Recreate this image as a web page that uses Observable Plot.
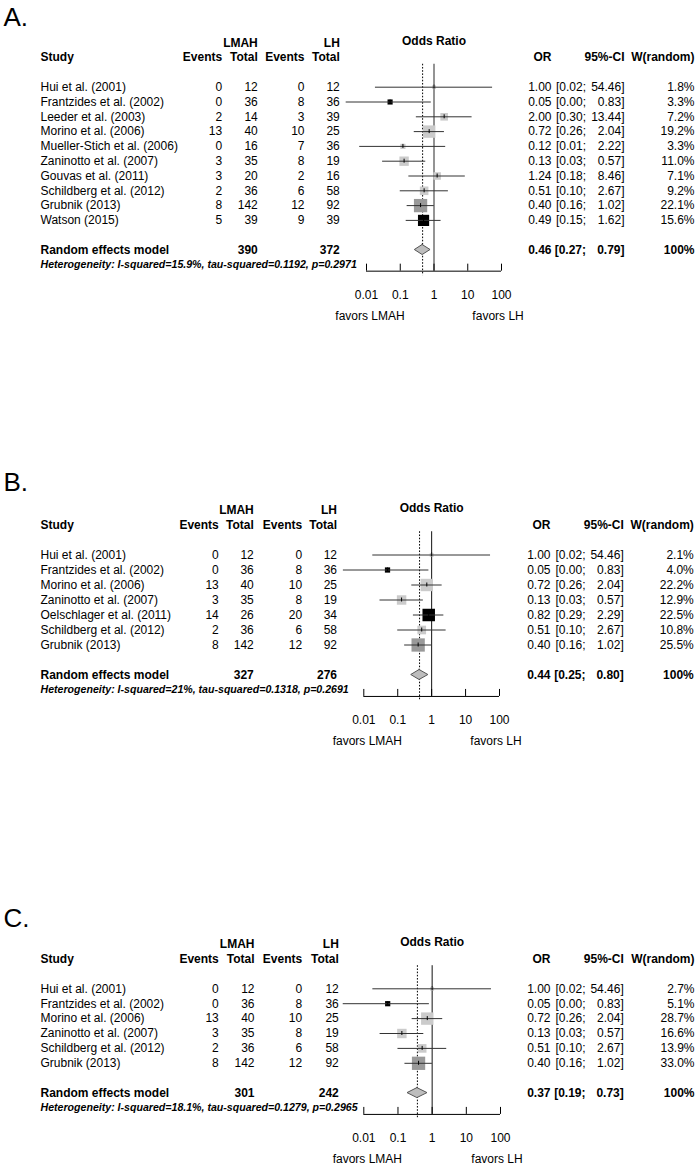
<!DOCTYPE html>
<html><head><meta charset="utf-8">
<script src="https://cdn.jsdelivr.net/npm/d3@7"></script>
<script src="https://cdn.jsdelivr.net/npm/@observablehq/plot@0.6"></script>
<style>
html,body{margin:0;padding:0;background:#fff;overflow:hidden;}
#chart svg{display:block;}
</style></head><body><div id="chart"></div>
<script>
// ---------------- Panel A data ----------------
const studiesA = ["Hui et al. (2001)", "Frantzides et al. (2002)", "Leeder et al. (2003)", "Morino et al. (2006)", "Mueller-Stich et al. (2006)", "Zaninotto et al. (2007)", "Gouvas et al. (2011)", "Schildberg et al. (2012)", "Grubnik (2013)", "Watson (2015)"];
const eventsLmahA = [0, 0, 2, 13, 0, 3, 3, 2, 8, 5];
const totalLmahA  = [12, 36, 14, 40, 16, 35, 20, 36, 142, 39];
const eventsLhA   = [0, 8, 3, 10, 7, 8, 2, 6, 12, 9];
const totalLhA    = [12, 36, 39, 25, 36, 19, 16, 58, 92, 39];
const orA    = [1.00, 0.05, 2.00, 0.72, 0.12, 0.13, 1.24, 0.51, 0.40, 0.49];
const lowerA = [0.0184, 0.0025, 0.30, 0.26, 0.0063, 0.03, 0.18, 0.10, 0.16, 0.15];
const upperA = [54.46, 0.83, 13.44, 2.04, 2.22, 0.57, 8.46, 2.67, 1.02, 1.62];
const weightA = [1.8, 3.3, 7.2, 19.2, 3.3, 11.0, 7.1, 9.2, 22.1, 15.6];
const pooledA = {total1: 390, total2: 372, or: 0.46, lower: 0.27, upper: 0.79, w: "100%"};
const hetA = "Heterogeneity: I-squared=15.9%, tau-squared=0.1192, p=0.2971";

// ---------------- Panel B data ----------------
const studiesB = ["Hui et al. (2001)", "Frantzides et al. (2002)", "Morino et al. (2006)", "Zaninotto et al. (2007)", "Oelschlager et al. (2011)", "Schildberg et al. (2012)", "Grubnik (2013)"];
const eventsLmahB = [0, 0, 13, 3, 14, 2, 8];
const totalLmahB  = [12, 36, 40, 35, 26, 36, 142];
const eventsLhB   = [0, 8, 10, 8, 20, 6, 12];
const totalLhB    = [12, 36, 25, 19, 34, 58, 92];
const orB    = [1.00, 0.05, 0.72, 0.13, 0.82, 0.51, 0.40];
const lowerB = [0.0184, 0.0025, 0.26, 0.03, 0.29, 0.10, 0.16];
const upperB = [54.46, 0.83, 2.04, 0.57, 2.29, 2.67, 1.02];
const weightB = [2.1, 4.0, 22.2, 12.9, 22.5, 10.8, 25.5];
const pooledB = {total1: 327, total2: 276, or: 0.44, lower: 0.25, upper: 0.80, w: "100%"};
const hetB = "Heterogeneity: I-squared=21%, tau-squared=0.1318, p=0.2691";

// ---------------- Panel C data ----------------
const studiesC = ["Hui et al. (2001)", "Frantzides et al. (2002)", "Morino et al. (2006)", "Zaninotto et al. (2007)", "Schildberg et al. (2012)", "Grubnik (2013)"];
const eventsLmahC = [0, 0, 13, 3, 2, 8];
const totalLmahC  = [12, 36, 40, 35, 36, 142];
const eventsLhC   = [0, 8, 10, 8, 6, 12];
const totalLhC    = [12, 36, 25, 19, 58, 92];
const orC    = [1.00, 0.05, 0.72, 0.13, 0.51, 0.40];
const lowerC = [0.0184, 0.0025, 0.26, 0.03, 0.10, 0.16];
const upperC = [54.46, 0.83, 2.04, 0.57, 2.67, 1.02];
const weightC = [2.7, 5.1, 28.7, 16.6, 13.9, 33.0];
const pooledC = {total1: 301, total2: 242, or: 0.37, lower: 0.19, upper: 0.73, w: "100%"};
const hetC = "Heterogeneity: I-squared=18.1%, tau-squared=0.1279, p=0.2965";

// Tick values / labels of the odds-ratio axis
const tickValues = [0.01, 0.1, 1, 10, 100];
const tickLabels = ["0.01", "0.1", "1", "10", "100"];
const labelLeft = "favors LMAH", labelRight = "favors LH";

// square shade per study
const blackStudies = ["Frantzides et al. (2002)", "Watson (2015)", "Oelschlager et al. (2011)"];
const darkStudies = ["Grubnik (2013)"];

const FONT = "'Liberation Sans', Arial, Helvetica, sans-serif";
const fmt = d3.format(".2f");

function panel(cfg) {
  const d = cfg.data;
  const rows = d.studies.map((s, i) => ({
    i, study: s, e1: d.e1[i], n1: d.n1[i], e2: d.e2[i], n2: d.n2[i],
    or: d.or[i], lo: d.lo[i], hi: d.hi[i], w: d.w[i],
    fill: blackStudies.includes(s) ? "#000" : darkStudies.includes(s) ? "#999" : "#cbcbcb"
  }));
  const n = rows.length, sp = cfg.spacing;
  const reRow = n + 1, hetRow = n + 2, axisRow = n + 2.43;
  const topRow = -1.55;
  const c = cfg.cols;
  const wmax = d3.max(d.w);
  const col = (key, opts) => Plot.text(rows, {frameAnchor: "left", y: "i", fontSize: 12, ...opts});
  const one = (label, row, x, anchor, extra = {}) =>
    Plot.text([label], {frameAnchor: "left", y: () => row, text: t => t, dx: x, textAnchor: anchor, fontSize: 12, ...extra});
  const p = d.pooled;
  const diamond = [
    {y: reRow - 5 / sp, x1: p.or, x2: p.or},
    {y: reRow, x1: p.lower, x2: p.upper},
    {y: reRow + 5 / sp, x1: p.or, x2: p.or}
  ];
  return Plot.plot({
    width: 700, height: cfg.height, margin: 0,
    style: {fontFamily: FONT, background: "#fff"},
    x: {type: "log", domain: [0.01, 100], range: cfg.xRange, axis: null},
    y: {type: "linear", domain: [0, 1], range: [cfg.y0, cfg.y0 + sp], axis: null},
    r: {type: "sqrt", domain: [0, wmax], range: [0, 13.3 / Math.sqrt(Math.PI)]},
    marks: [
      // panel letter
      Plot.text([cfg.letter], {frameAnchor: "top-left", text: t => t, dx: 3, dy: 7, fontSize: 26, lineAnchor: "top"}),
      // headers
      one("Study", -2, c.study, "start", {fontWeight: "bold"}),
      one("LMAH", -3, c.n1, "end", {fontWeight: "bold"}),
      one("Events", -2, c.e1, "end", {fontWeight: "bold"}),
      one("Total", -2, c.n1, "end", {fontWeight: "bold"}),
      one("LH", -3, c.n2, "end", {fontWeight: "bold"}),
      one("Events", -2, c.e2, "end", {fontWeight: "bold"}),
      one("Total", -2, c.n2, "end", {fontWeight: "bold"}),
      Plot.text(["Odds Ratio"], {x: () => 1, y: () => -3.1, text: t => t, fontSize: 12, fontWeight: "bold"}),
      one("OR", -2, c.or, "end", {fontWeight: "bold"}),
      one("95%-CI", -2, c.hi, "end", {fontWeight: "bold"}),
      one("W(random)", -2, c.w, "end", {fontWeight: "bold"}),
      // study columns
      col("study", {text: "study", dx: c.study, textAnchor: "start"}),
      col("e1", {text: "e1", dx: c.e1, textAnchor: "end"}),
      col("n1", {text: "n1", dx: c.n1, textAnchor: "end"}),
      col("e2", {text: "e2", dx: c.e2, textAnchor: "end"}),
      col("n2", {text: "n2", dx: c.n2, textAnchor: "end"}),
      col("or", {text: r => fmt(r.or), dx: c.or, textAnchor: "end"}),
      col("lo", {text: r => "[" + fmt(r.lo) + ";", dx: c.lo, textAnchor: "end"}),
      col("hi", {text: r => fmt(r.hi) + "]", dx: c.hi, textAnchor: "end"}),
      col("w", {text: r => r.w.toFixed(1) + "%", dx: c.w, textAnchor: "end"}),
      // pooled row
      one("Random effects model", reRow, c.study, "start", {fontWeight: "bold"}),
      one(String(p.total1), reRow, c.n1, "end", {fontWeight: "bold"}),
      one(String(p.total2), reRow, c.n2, "end", {fontWeight: "bold"}),
      one(fmt(p.or), reRow, c.or, "end", {fontWeight: "bold"}),
      one("[" + fmt(p.lower) + ";", reRow, c.lo, "end", {fontWeight: "bold"}),
      one(fmt(p.upper) + "]", reRow, c.hi, "end", {fontWeight: "bold"}),
      one(p.w, reRow, c.w, "end", {fontWeight: "bold"}),
      one(d.het, hetRow, c.study, "start", {fontWeight: "bold", fontStyle: "italic", fontSize: 10.6}),
      // reference lines
      Plot.ruleX([1], {y1: () => topRow, y2: () => axisRow, stroke: cfg.refColor, strokeWidth: cfg.refWidth}),
      Plot.ruleX([p.or], {y1: () => topRow, y2: () => axisRow + 0.3, stroke: "#000", strokeWidth: 1, strokeDasharray: "1.6,1.6"}),
      // squares, CI lines, estimate ticks
      Plot.dot(rows, {x: "or", y: "i", r: "w", symbol: "square", fill: "fill"}),
      Plot.ruleY(rows, {y: "i", x1: "lo", x2: "hi", stroke: "#333", strokeWidth: 1}),
      Plot.ruleX(rows, {x: "or", y1: r => r.i - 2 / sp, y2: r => r.i + 2 / sp, stroke: "#000", strokeWidth: 1}),
      // pooled diamond
      Plot.areaX(diamond, {y: "y", x1: "x1", x2: "x2", fill: "#bdbdbd", stroke: "#555", strokeWidth: 1, curve: "linear"}),
      // axis
      Plot.ruleY([axisRow], {x1: () => 0.01, x2: () => 100, stroke: "#000", strokeWidth: 1}),
      Plot.ruleX(tickValues, {x: t => t, y1: () => axisRow - 7 / sp, y2: () => axisRow, stroke: "#000", strokeWidth: 1}),
      Plot.text(tickValues, {x: t => t, y: () => axisRow + 24 / sp, text: (t, i) => tickLabels[i], fontSize: 12}),
      Plot.text([labelLeft], {x: () => 0.0127, y: () => axisRow + 45 / sp, text: t => t, fontSize: 12}),
      Plot.text([labelRight], {x: () => 79, y: () => axisRow + 45 / sp, text: t => t, fontSize: 12})
    ]
  });
}

const panels = [
  {letter: "A.", height: 465, y0: 86.7, spacing: 14.8, xRange: [366, 501], refColor: "#707070", refWidth: 1.5,
   cols: {study: 40, e1: 221.7, n1: 257.3, e2: 304, n2: 339.3, or: 551, lo: 585.5, hi: 624, w: 694},
   data: {studies: studiesA, e1: eventsLmahA, n1: totalLmahA, e2: eventsLhA, n2: totalLhA, or: orA, lo: lowerA, hi: upperA, w: weightA, pooled: pooledA, het: hetA}},
  {letter: "B.", height: 436, y0: 89.5, spacing: 15.0, xRange: [363.3, 499], refColor: "#111", refWidth: 1,
   cols: {study: 40, e1: 218.3, n1: 253.3, e2: 301.7, n2: 336.5, or: 550, lo: 585, hi: 623.3, w: 693.3},
   data: {studies: studiesB, e1: eventsLmahB, n1: totalLmahB, e2: eventsLhB, n2: totalLhB, or: orB, lo: lowerB, hi: upperB, w: weightB, pooled: pooledB, het: hetB}},
  {letter: "C.", height: 267, y0: 87.3, spacing: 14.9, xRange: [363.3, 500], refColor: "#111", refWidth: 1,
   cols: {study: 40, e1: 218.3, n1: 254, e2: 301.7, n2: 338.3, or: 550, lo: 585, hi: 623.3, w: 694},
   data: {studies: studiesC, e1: eventsLmahC, n1: totalLmahC, e2: eventsLhC, n2: totalLhC, or: orC, lo: lowerC, hi: upperC, w: weightC, pooled: pooledC, het: hetC}}
];

const root = document.getElementById("chart");
for (const cfg of panels) root.appendChild(panel(cfg));
</script></body></html>
